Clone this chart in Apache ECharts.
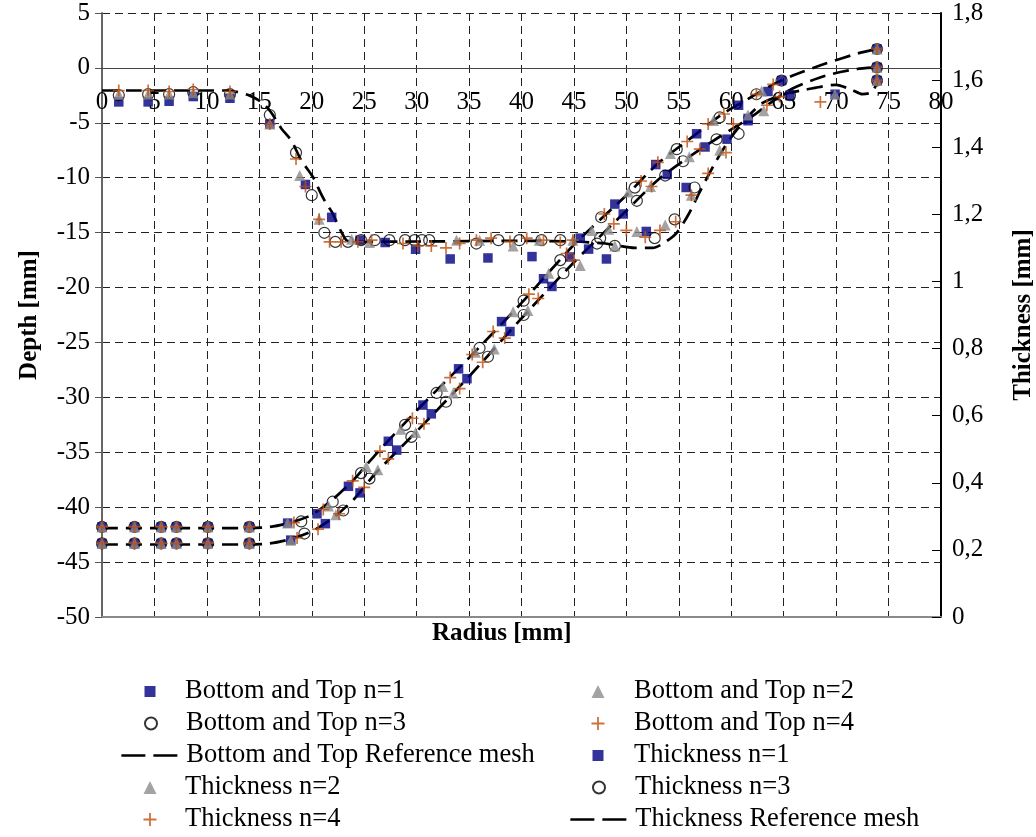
<!DOCTYPE html>
<html><head><meta charset="utf-8">
<script src="https://cdn.jsdelivr.net/npm/echarts@6/dist/echarts.min.js"></script>
<style>html,body{margin:0;padding:0;background:#fff}#c{width:1036px;height:837px}</style>
</head><body><div id="c"></div>
<script>
// ---------- DATA ----------
// Radius [mm] vs Depth [mm] (left axis)
const btN1 = [[0,-41.8],[3.1,-41.8],[5.65,-41.8],[7.1,-41.8],[10.1,-41.8],[14.05,-41.8],
  [0,-43.3],[3.1,-43.3],[5.65,-43.3],[7.1,-43.3],[10.1,-43.3],[14.05,-43.3],
  [17.7,-41.45],[20.5,-40.6],[23.5,-38.1],[27.3,-34.0],[30.6,-30.7],[34.0,-27.4],[38.1,-23.1],[42.1,-19.2],[45.6,-15.5],[48.9,-12.4],[52.8,-8.8],[56.7,-6.0],[60.7,-3.4],[63.5,-2.15],[64.8,-1.15],[73.9,1.72],
  [18.0,-43.0],[21.3,-41.5],[24.6,-38.7],[28.1,-34.8],[31.4,-31.5],[34.8,-28.3],[38.9,-24.0],[42.9,-19.9],[46.4,-16.5],[49.7,-13.3],[53.9,-9.7],[57.5,-7.2],[61.6,-4.6],[73.9,0.05]];
const btN2 = [[0,-41.8],[3.1,-41.8],[5.65,-41.8],[7.1,-41.8],[10.1,-41.8],[14.05,-41.8],
  [0,-43.3],[3.1,-43.3],[5.65,-43.3],[7.1,-43.3],[10.1,-43.3],[14.05,-43.3],
  [17.7,-41.45],[21.6,-39.9],[25.2,-36.3],[28.5,-32.9],[32.5,-29.0],[35.6,-25.9],[39.2,-22.2],[42.6,-18.7],[46.7,-14.8],[50.2,-11.3],[54.2,-7.8],[58.3,-4.8],[62.9,-2.1],[73.9,1.72],
  [18.0,-43.0],[22.3,-40.7],[26.3,-36.6],[29.9,-33.2],[33.5,-29.6],[37.4,-25.6],[40.6,-22.1],[45.6,-18.0],[48.3,-14.7],[52.3,-10.8],[56.0,-8.1],[73.9,0.05]];
const btN3 = [[0,-41.8],[3.1,-41.8],[5.65,-41.8],[7.1,-41.8],[10.1,-41.8],[14.05,-41.8],
  [0,-43.3],[3.1,-43.3],[5.65,-43.3],[7.1,-43.3],[10.1,-43.3],[14.05,-43.3],
  [19.0,-41.3],[22.0,-39.5],[24.7,-36.9],[28.9,-32.5],[31.9,-29.6],[36.0,-25.5],[40.2,-21.2],[43.7,-17.5],[47.6,-13.6],[50.8,-10.9],[54.8,-7.4],[58.9,-4.5],[62.4,-2.4],[64.8,-1.15],[73.9,1.72],
  [19.3,-42.4],[23.0,-40.3],[25.5,-37.4],[29.5,-33.6],[32.8,-30.4],[36.8,-26.3],[40.2,-22.5],[44.0,-18.7],[47.5,-15.5],[51.0,-12.1],[53.7,-9.8],[55.4,-8.5],[58.6,-6.5],[73.9,0.05]];
const btN4 = [[0,-41.8],[3.1,-41.8],[5.65,-41.8],[7.1,-41.8],[10.1,-41.8],[14.05,-41.8],
  [0,-43.3],[3.1,-43.3],[5.65,-43.3],[7.1,-43.3],[10.1,-43.3],[14.05,-43.3],
  [18.3,-41.4],[21.1,-40.2],[23.9,-37.6],[26.5,-34.9],[29.6,-31.9],[33.2,-28.2],[35.3,-26.1],[37.3,-24.0],[40.7,-20.6],[44.3,-16.9],[47.9,-13.3],[51.4,-10.3],[53.0,-8.6],[55.8,-6.7],[57.8,-5.1],[59.3,-4.2],[62.4,-2.4],[64.0,-1.5],[73.9,1.72],
  [18.6,-42.8],[20.6,-42.0],[22.6,-40.6],[25.0,-38.2],[27.3,-35.6],[30.7,-32.4],[34.1,-29.2],[36.3,-26.8],[38.4,-24.6],[41.6,-21.0],[45.0,-17.5],[48.8,-14.2],[52.4,-10.8],[57.0,-7.4],[60.2,-5.1],[73.9,0.05]];
const btRefTop = [[0,-41.9],[14,-41.9],[16,-41.8],[18,-41.4],[20,-40.7],[22,-39.3],[24,-37.5],[26,-35.3],[30,-31.2],[35,-26.4],[40,-21.4],[45,-16.1],[50,-11.6],[53,-8.7],[56,-6.5],[59,-4.3],[62,-2.6],[64,-1.5],[66,-0.65],[69,0.4],[72,1.3],[74,1.75]];
const btRefBottom = [[0,-43.4],[14,-43.4],[16,-43.3],[18,-42.9],[20,-42.2],[22,-41.0],[24,-39.3],[26,-37.0],[30,-33.1],[35,-28.1],[40,-22.8],[45,-17.7],[50,-13.0],[53,-10.2],[56,-8.1],[59,-6.2],[62,-4.4],[64,-3.0],[66,-1.8],[69,-0.7],[72,-0.1],[74,0.05]];

// Radius [mm] vs Thickness [mm] (right axis)
const thN1 = [[1.6,1.535],[4.4,1.535],[6.4,1.537],[8.7,1.551],[12.2,1.546],[16.0,1.469],[19.4,1.289],[21.9,1.191],[24.6,1.123],[27.0,1.116],[29.9,1.096],[33.2,1.067],[36.8,1.070],[41.0,1.074],[44.6,1.073],[48.1,1.067],[51.9,1.149],[55.7,1.280],[59.6,1.424],[61.6,1.479],[65.6,1.555],[69.9,1.558],[73.9,1.599]];
const thN2 = [[1.6,1.558],[4.4,1.558],[6.4,1.558],[8.7,1.562],[12.2,1.558],[16.0,1.469],[18.85,1.316],[20.7,1.185],[23.8,1.126],[25.5,1.116],[33.8,1.123],[36.0,1.123],[39.2,1.106],[41.7,1.123],[44.9,1.123],[48.9,1.106],[51.0,1.149],[53.7,1.168],[56.2,1.257],[58.9,1.391],[61.6,1.496],[63.1,1.509],[69.9,1.558],[73.9,1.599]];
const thN3 = [[1.6,1.555],[4.4,1.558],[6.4,1.558],[8.7,1.564],[12.2,1.558],[16.0,1.496],[18.5,1.384],[20.0,1.257],[21.2,1.145],[22.25,1.118],[23.45,1.118],[24.7,1.123],[26.0,1.123],[27.4,1.123],[28.9,1.123],[29.8,1.123],[30.5,1.123],[31.2,1.123],[35.7,1.113],[37.8,1.123],[39.8,1.123],[41.9,1.123],[43.7,1.123],[47.2,1.113],[48.9,1.106],[52.7,1.129],[54.6,1.185],[56.5,1.280],[60.7,1.440],[65.6,1.555],[73.9,1.599]];
const thN4 = [[1.6,1.569],[4.4,1.569],[6.4,1.566],[8.7,1.572],[12.2,1.566],[16.0,1.469],[18.5,1.365],[19.4,1.283],[20.7,1.185],[21.7,1.118],[22.8,1.118],[24.4,1.118],[25.7,1.123],[28.7,1.113],[30.1,1.106],[31.4,1.106],[32.8,1.100],[34.1,1.113],[35.7,1.123],[37.1,1.129],[38.9,1.119],[40.5,1.129],[42.1,1.123],[43.7,1.116],[44.9,1.123],[50.0,1.152],[51.8,1.132],[53.2,1.152],[54.7,1.178],[56.2,1.257],[57.8,1.322],[59.5,1.384],[63.4,1.525],[64.6,1.551],[68.5,1.535],[73.9,1.599]];
const thRef = [[0,1.569],[12,1.569],[13,1.564],[14,1.555],[15.2,1.535],[16.1,1.505],[17.1,1.456],[18.05,1.420],[19,1.361],[20.1,1.312],[20.9,1.260],[21.4,1.231],[21.9,1.208],[22.8,1.149],[23.3,1.123],[24,1.118],[30,1.119],[40,1.121],[45,1.119],[48,1.113],[50.8,1.100],[52.5,1.100],[53.5,1.113],[54.8,1.145],[56,1.204],[57,1.267],[58.6,1.361],[60,1.430],[61.5,1.489],[63,1.532],[65,1.558],[67,1.571],[70,1.586],[71.5,1.571],[72.5,1.558],[73.4,1.564],[74,1.599]];

const names = {
  bt1:'Bottom and Top n=1', bt2:'Bottom and Top n=2', bt3:'Bottom and Top n=3', bt4:'Bottom and Top n=4',
  btRef:'Bottom and Top Reference mesh',
  th1:'Thickness n=1', th2:'Thickness n=2', th3:'Thickness n=3', th4:'Thickness n=4',
  thRef:'Thickness Reference mesh'
};

// ---------- STYLE ----------
const FONT = 'Liberation Serif';
const NAVY = '#000080', GRAY = '#8c8c8c', ORANGE = '#bf4f0f';
const PLUS = 'path://M4.3,0h1.4v4.3h4.3v1.4h-4.3v4.3h-1.4v-4.3h-4.3v-1.4h4.3z';

function lineSeries(name, data, yi) {
  return {name, type:'line', data, yAxisIndex:yi, xAxisIndex:0, symbol:'none', smooth:0.25,
    lineStyle:{color:'#000', width:2.7, type:[16,8]}, itemStyle:{color:'#000'}, z:2, animation:false};
}
function sq(name, data, yi) {
  return {name, type:'scatter', data, yAxisIndex:yi, symbol:'rect', symbolSize:9.5,
    itemStyle:{color:NAVY}, z:3, animation:false};
}
function ci(name, data, yi) {
  return {name, type:'scatter', data, yAxisIndex:yi, symbol:'circle', symbolSize:11,
    itemStyle:{color:'rgba(255,255,255,0)', borderColor:'#000', borderWidth:1.2}, z:4, animation:false};
}
function tr(name, data, yi) {
  return {name, type:'scatter', data, yAxisIndex:yi, symbol:'triangle', symbolSize:11,
    itemStyle:{color:GRAY}, z:5, animation:false};
}
function pl(name, data, yi) {
  return {name, type:'scatter', data, yAxisIndex:yi, symbol:PLUS, symbolSize:12,
    itemStyle:{color:ORANGE}, z:6, animation:false};
}

const series = [
  lineSeries(names.btRef, btRefTop, 0),
  lineSeries(names.btRef, btRefBottom, 0),
  lineSeries(names.thRef, thRef, 1),
  sq(names.bt1, btN1, 0), sq(names.th1, thN1, 1),
  ci(names.bt3, btN3, 0), ci(names.th3, thN3, 1),
  tr(names.bt2, btN2, 0), tr(names.th2, thN2, 1),
  pl(names.bt4, btN4, 0), pl(names.th4, thN4, 1)
];

// legend: one component per entry, two columns
// [name, column, row, icon size (0 = dashed line)]
const legendCells = [
  [names.bt1, 0, 0, 11], [names.bt2, 1, 0, 13],
  [names.bt3, 0, 1, 12], [names.bt4, 1, 1, 13],
  [names.btRef, 0, 2, 0], [names.th1, 1, 2, 11],
  [names.th2, 0, 3, 13], [names.th3, 1, 3, 12],
  [names.th4, 0, 4, 13], [names.thRef, 1, 4, 0]
];
const iconCX = [150, 598], textX = [185, 634], lineX = [120, 569];
const rowY = [691, 723, 755, 787, 819];
const LFS = 26.5;
const legends = legendCells.map(([n, c, r, s]) => {
  if (s === 0) {
    return {data:[{name:n, itemStyle:{color:'rgba(0,0,0,0)', borderColor:'rgba(0,0,0,0)', borderWidth:0}}],
      left:lineX[c], top:rowY[r] - 13, padding:0, itemGap:0,
      itemWidth:textX[c] - 5 - lineX[c], itemHeight:14, selectedMode:false,
      lineStyle:{color:'#000', width:2.7, type:[24,8]},
      textStyle:{fontFamily:FONT, fontSize:LFS, color:'#000'}};
  }
  const gap = textX[c] - (iconCX[c] + s/2) - 5;
  return {data:[n], left:iconCX[c] - s/2, top:rowY[r] - 13, padding:0, itemGap:0,
    itemWidth:s, itemHeight:s, selectedMode:false,
    formatter: name => '{g| }' + name,
    textStyle:{fontFamily:FONT, fontSize:LFS, color:'#000',
      rich:{g:{width:gap, fontFamily:FONT, fontSize:LFS}}}};
});

const option = {
  animation:false,
  backgroundColor:'#fff',
  title:{text:'Radius [mm]', left:432, top:621, padding:0,
    textStyle:{fontFamily:FONT, fontSize:25, fontWeight:'bold', color:'#000'}},
  legend: legends,
  grid:{left:102, right:95, top:13, bottom:220, containLabel:false, outerBoundsMode:'none'},
  xAxis:[
    {type:'value', min:0, max:80, interval:5, position:'bottom', offset:-549.1,
     axisLine:{show:true, onZero:false, lineStyle:{color:'#444', width:1}},
     axisTick:{show:false},
     axisLabel:{fontFamily:FONT, fontSize:25, color:'#000', margin:22, showMinLabel:true, showMaxLabel:true},
     splitLine:{show:true, lineStyle:{color:'#222', width:1, type:[8,5]}}},
    {type:'value', min:0, max:80, position:'bottom',
     axisLine:{show:true, onZero:false, lineStyle:{color:'#8a8a8a', width:2}},
     axisTick:{show:false}, axisLabel:{show:false}, splitLine:{show:false}}
  ],
  yAxis:[
    {type:'value', min:-50, max:5, interval:5, position:'left',
     axisLine:{show:true, onZero:false, lineStyle:{color:'#666', width:2}},
     axisTick:{show:true, length:7, lineStyle:{color:'#555'}},
     axisLabel:{fontFamily:FONT, fontSize:25, color:'#000', margin:12},
     splitLine:{show:true, lineStyle:{color:'#222', width:1, type:[8,5]}},
     name:'Depth [mm]', nameLocation:'middle', nameRotate:90, nameGap:60,
     nameTextStyle:{fontFamily:FONT, fontSize:25, fontWeight:'bold', color:'#000'}},
    {type:'value', min:0, max:1.8, interval:0.2, position:'right',
     axisLine:{show:true, onZero:false, lineStyle:{color:'#000', width:2}},
     axisTick:{show:true, inside:true, length:9, lineStyle:{color:'#000'}},
     axisLabel:{fontFamily:FONT, fontSize:25, color:'#000', margin:11,
       formatter:v => String(Math.round(v*10)/10).replace('.', ',')},
     splitLine:{show:false},
     name:'Thickness [mm]', nameLocation:'middle', nameRotate:90, nameGap:70,
     nameTextStyle:{fontFamily:FONT, fontSize:25, fontWeight:'bold', color:'#000'}}
  ],
  series
};

const chart = echarts.init(document.getElementById('c'), null, {renderer:'canvas'});
chart.setOption(option);
</script>
</body></html>
